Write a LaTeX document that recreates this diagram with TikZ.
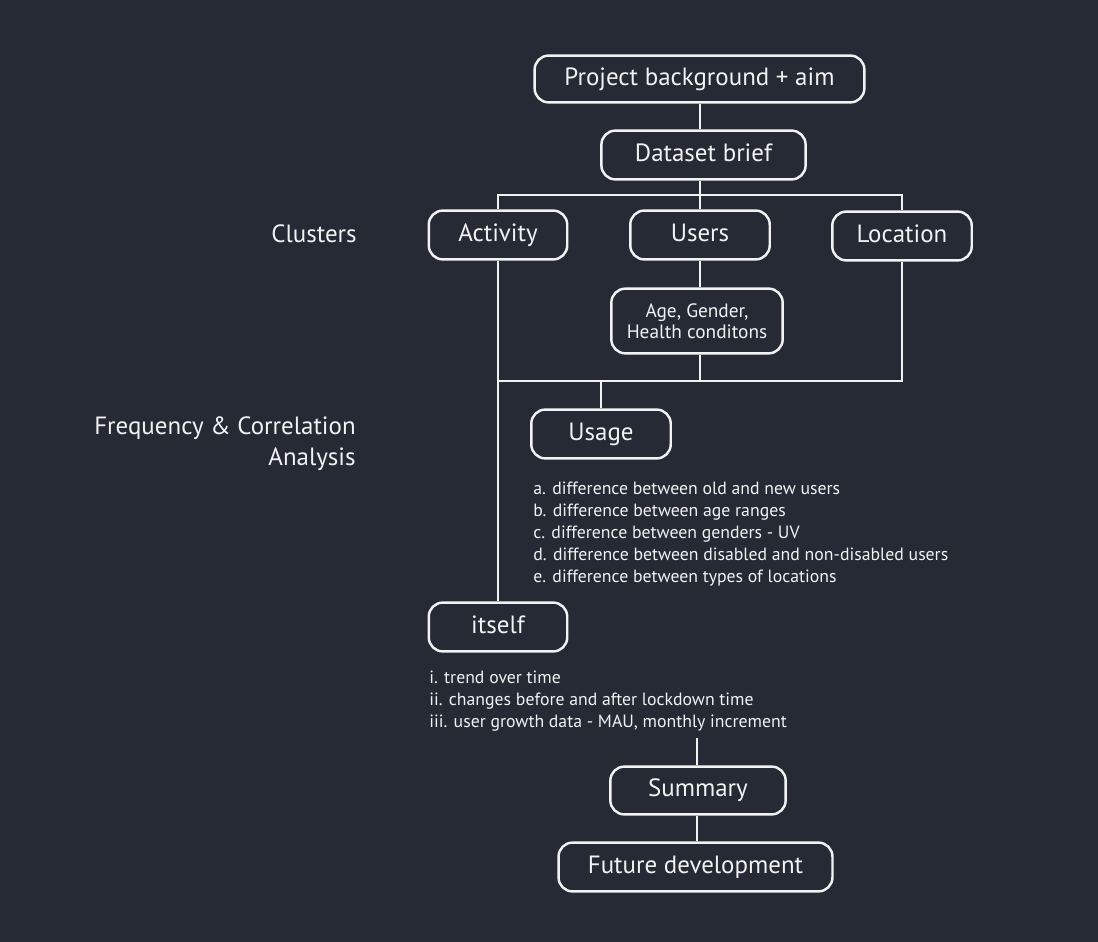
\documentclass[tikz,border=0pt]{standalone}
\usepackage{fontspec}
\setmainfont{PT Sans}
\usepackage{tikz}
\usetikzlibrary{positioning}
\definecolor{bgnavy}{HTML}{252A35}
\definecolor{inkwhite}{HTML}{F2F2F2}
\tikzset{
  box/.style={draw=inkwhite, line width=1.4pt, rounded corners=8pt, text=inkwhite,
    align=center, inner sep=0pt, font=\fontsize{14.2}{17}\selectfont},
  stagebox/.style={box, text height=1.6ex, text depth=0.2ex},
  wire/.style={draw=inkwhite, line width=0.9pt},
  note/.style={text=inkwhite, align=left, inner sep=0pt, anchor=north west,
    font=\fontsize{10.1}{12.5}\selectfont},
  side/.style={text=inkwhite, align=right, inner sep=0pt, anchor=east,
    font=\fontsize{14.2}{17.5}\selectfont}
}
\begin{document}
\begin{tikzpicture}[x=0.02cm, y=-0.02cm]
            \fill[bgnavy] (0,0) rectangle (1098,942);
            \useasboundingbox (0,0) rectangle (1098,942);

            \node[stagebox, minimum width=331*0.567pt, minimum height=47*0.567pt] at (699.5,79) (aim) {Project background + aim};
            \node[stagebox, minimum width=205*0.567pt, minimum height=49*0.567pt] at (703.5,155) (brief) {Dataset brief};
            \node[stagebox, minimum width=139*0.567pt, minimum height=49*0.567pt] at (498,235) (activity) {Activity};
            \node[stagebox, minimum width=140*0.567pt, minimum height=49*0.567pt] at (700,235) (users) {Users};
            \node[stagebox, minimum width=140*0.567pt, minimum height=49*0.567pt] at (902,236) (location) {Location};
            \node[box, minimum width=172*0.567pt, minimum height=65*0.567pt, font=\fontsize{11}{12}\selectfont] at (697,321) (profile) {Age, Gender,\\Health conditons};
            \node[stagebox, minimum width=140*0.567pt, minimum height=49*0.567pt] at (601,434) (usage) {Usage};
            \node[stagebox, minimum width=139*0.567pt, minimum height=49*0.567pt] at (498,627) (itself) {itself};
            \node[stagebox, minimum width=176*0.567pt, minimum height=48*0.567pt] at (698,790.5) (summary) {Summary};
            \node[stagebox, minimum width=275*0.567pt, minimum height=49*0.567pt] at (695.5,867) (future) {Future development};

            % left-hand labels
            \node[side] at (357,234) (clusters) {Clusters};
            \node[side] at (356,443.5) (freq) {Frequency \& Correlation\\Analysis};

            % lists
            \node[note] at (533,481.5) (usagelist) {a. difference between old and new users\\
              b. difference between age ranges\\
              c. difference between genders - UV\\
              d. difference between disabled and non-disabled users\\
              e. difference between types of locations};
            \node[note] at (429,670.5) (itselflist) {i. trend over time\\
              ii. changes before and after lockdown time\\
              iii. user growth data - MAU, monthly increment};

            \coordinate (bustop) at (700,195);
            \coordinate (buslow) at (601,381);
            \coordinate (sumtop) at (697,738);

            \draw[wire] (aim.south -| brief.north) ++(-3.5,0) coordinate (aimfoot) -- (aimfoot |- brief.north);
            \draw[wire] (brief.south -| users.north) -- (users.north);
            \draw[wire] (activity.north) -- (activity.north |- bustop) -- (location.north |- bustop) -- (location.north);
            \draw[wire] (users.south) -- (users.south |- profile.north);
            \draw[wire] (activity) -- (itself);
            \draw[wire] (location.south) -- (location.south |- buslow) -- (activity.south |- buslow);
            \draw[wire] (users.south |- profile.south) -- (users.south |- buslow);
            \draw[wire] (buslow) -- (usage);
            \draw[wire] (sumtop) -- (sumtop |- summary.north);
            \draw[wire] (sumtop |- summary.south) -- (sumtop |- future.north);
\end{tikzpicture}
\end{document}
